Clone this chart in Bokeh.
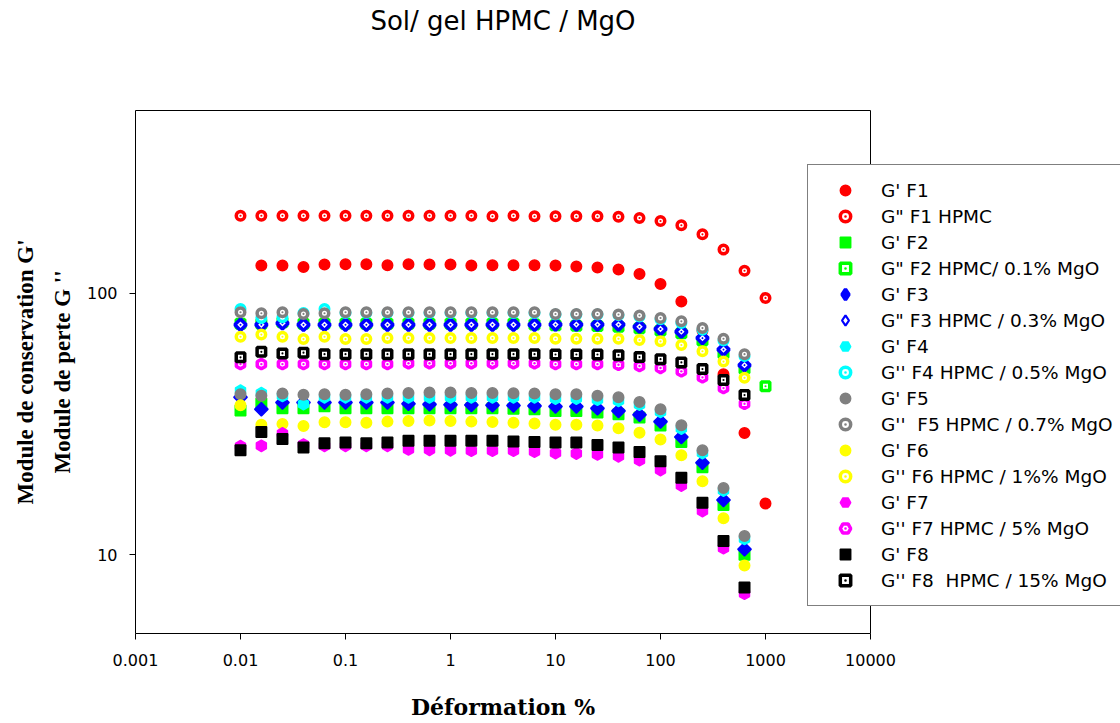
import numpy as np
from bokeh.plotting import figure
from bokeh.models import (Range1d, FixedTicker, CustomJSTickFormatter, Label,
                          Legend, LegendItem, LogAxis)
from bokeh.embed import file_html
from bokeh.resources import INLINE

# ---------------- data ----------------
strain = [0.01, 0.0158, 0.0251, 0.0398, 0.0631, 0.1, 0.158, 0.251, 0.398, 0.631,
          1.0, 1.58, 2.51, 3.98, 6.31, 10.0, 15.8, 25.1, 39.8, 63.1,
          100.0, 158.0, 251.0, 398.0, 631.0, 1000.0]

x_ticks = [0.001, 0.01, 0.1, 1, 10, 100, 1000, 10000]
y_ticks = [10, 100]

# F1 G' starts at the 2nd strain and ends at 1000
F1_Gp = [127.7, 127.7, 126.1, 128.8, 129.2, 129.2, 128.0, 129.2, 128.8, 128.8,
         127.7, 128.0, 128.0, 128.0, 127.7, 126.6, 125.5, 123.3, 118.6, 108.5,
         93.1, 72.0, 49.0, 29.2, 15.7]
F1_Gpp = [198, 198, 198, 198, 198, 198, 198, 198, 198, 198,
          198, 198, 197, 198, 197, 197, 197, 197, 196, 194,
          189, 182, 168, 147, 122, 96]

F2_Gp = [35.6, 37.9, 36.3, 36.3, 37.0, 36.3, 36.3, 36.3, 36.3, 36.3,
         36.3, 36.3, 36.3, 36.2, 36.0, 35.5, 35.5, 35.0, 34.5, 33.5,
         31.2, 27.0, 21.6, 15.5, 10.0]
F2_Gpp = [76.4, 76.4, 77.5, 76.4, 76.4, 76.4, 76.4, 76.4, 76.4, 76.4,
          76.4, 76.4, 76.4, 76.4, 76.0, 75.4, 75.2, 75.0, 74.5, 73.5,
          72.0, 70.3, 66.0, 59.0, 51.5, 44.1]

F3_Gp = [40.0, 36.0, 38.2, 38.2, 38.2, 38.2, 38.2, 38.2, 37.8, 37.6,
         37.5, 37.4, 37.3, 37.2, 37.1, 36.9, 36.9, 36.3, 35.5, 34.3,
         32.3, 28.2, 22.5, 16.2, 10.5]
F3_Gpp = [75.8, 75.8, 76.8, 75.8, 75.8, 75.8, 75.8, 75.8, 75.8, 75.8,
          75.8, 75.8, 75.8, 75.8, 75.8, 75.9, 75.9, 75.9, 75.9, 74.5,
          73.0, 71.3, 67.4, 60.9, 53.1]

F4_Gp = [42.4, 41.5, 40.5, 37.7, 40.0, 40.0, 40.0, 40.0, 40.0, 40.0,
         40.0, 40.0, 40.0, 40.0, 40.0, 39.6, 39.6, 39.2, 38.8, 37.5,
         35.2, 30.4, 24.5, 17.6, 11.5]
F4_Gpp = [87.0, 80.5, 81.0, 84.0, 87.0, 84.0, 84.0, 84.0, 84.0, 84.0,
          84.0, 84.0, 84.0, 84.0, 84.0, 83.0, 83.0, 83.0, 82.5, 81.5,
          79.5, 77.0, 72.5, 66.0, 57.5]

F5_Gp = [41.1, 40.6, 41.4, 40.9, 41.1, 40.9, 41.1, 41.4, 41.6, 41.7,
         41.7, 41.6, 41.6, 41.5, 41.4, 41.1, 41.1, 40.6, 40.0, 38.4,
         36.0, 31.3, 25.1, 18.0, 11.8]
F5_Gpp = [84.6, 83.9, 84.6, 83.4, 83.9, 84.6, 84.6, 84.6, 84.6, 84.6,
          84.6, 84.6, 84.6, 84.6, 84.6, 83.3, 83.3, 83.3, 83.0, 82.2,
          80.4, 78.1, 73.6, 67.0, 58.5]

F6_Gp = [37.3, 31.4, 31.6, 31.1, 32.1, 32.1, 32.0, 32.3, 32.5, 32.6,
         32.5, 32.3, 32.2, 32.0, 31.8, 31.4, 31.4, 31.2, 30.5, 29.3,
         27.6, 24.0, 19.1, 13.8, 9.1]
F6_Gpp = [68.2, 69.5, 68.2, 66.8, 68.2, 66.8, 66.8, 67.4, 67.4, 67.4,
          67.4, 67.4, 67.4, 67.4, 67.4, 67.0, 67.0, 67.0, 67.0, 66.3,
          65.5, 63.4, 60.0, 54.8, 47.5]

F7_Gp = [26.0, 26.1, 29.1, 26.4, 26.1, 26.1, 26.1, 26.1, 25.3, 25.2,
         25.1, 25.0, 25.0, 25.0, 24.8, 24.5, 24.4, 24.2, 23.8, 23.0,
         21.1, 18.4, 14.7, 10.6, 7.1]
F7_Gpp = [53.6, 53.6, 53.6, 53.6, 53.6, 53.6, 53.6, 53.6, 54.0, 54.0,
          54.0, 54.0, 54.0, 54.0, 54.0, 53.6, 53.6, 53.6, 53.3, 52.7,
          51.8, 50.3, 47.7, 43.4, 37.8]

F8_Gp = [25.1, 29.5, 27.7, 25.7, 26.7, 26.9, 26.7, 26.9, 27.3, 27.3,
         27.3, 27.3, 27.3, 27.1, 27.0, 26.9, 26.9, 26.3, 25.7, 24.7,
         22.8, 19.7, 15.8, 11.3, 7.5]
F8_Gpp = [56.9, 59.7, 58.9, 59.3, 58.5, 58.5, 58.5, 58.5, 58.5, 58.5,
          58.5, 58.5, 58.5, 58.5, 58.5, 58.3, 58.3, 58.3, 58.0, 57.0,
          56.0, 54.4, 51.3, 46.6, 40.8]

labels = ["G' F1", 'G" F1 HPMC',
          "G' F2", 'G" F2 HPMC/ 0.1% MgO',
          "G' F3", 'G" F3 HPMC / 0.3% MgO',
          "G' F4", "G'' F4 HPMC / 0.5% MgO",
          "G' F5", "G''  F5 HPMC / 0.7% MgO",
          "G' F6", "G'' F6 HPMC / 1%% MgO",
          "G' F7", "G'' F7 HPMC / 5% MgO",
          "G' F8", "G'' F8  HPMC / 15% MgO"]

title_text = "Sol/ gel HPMC / MgO"
x_title = "Déformation %"
y_title_1 = "Module de conservation G'"
y_title_2 = "Module de perte G ''"

# ---------------- layout (pixels of the 1120x723 page) ----------------
W, H = 1120, 723
FL, FR, FT, FB = 135, 870, 110, 633          # axis box
X_LO, X_HI, Y_LO, Y_HI = 0.001, 10000, 5, 500
xpd = (FR - FL) / (np.log10(X_HI) - np.log10(X_LO))
ypd = (FB - FT) / (np.log10(Y_HI) - np.log10(Y_LO))
x_range = Range1d(10 ** (np.log10(X_LO) - FL / xpd), 10 ** (np.log10(X_HI) + (W - FR) / xpd))
y_range = Range1d(10 ** (np.log10(Y_LO) - (H - FB) / ypd), 10 ** (np.log10(Y_HI) + FT / ypd))

p = figure(width=W, height=H, x_axis_type="log", y_axis_type="log",
           x_range=x_range, y_range=y_range, title=None,
           output_backend="svg", toolbar_location=None, min_border=0)
p.xgrid.visible = False
p.ygrid.visible = False
p.outline_line_color = None
p.background_fill_color = "white"
p.border_fill_color = "white"

fmt = CustomJSTickFormatter(code="""
const e = Math.round(Math.log10(tick));
if (e >= 0) { return Math.pow(10, e).toFixed(0); }
return Math.pow(10, e).toFixed(-e);
""")

xax = p.xaxis[0]
yax = p.yaxis[0]
xax.fixed_location = Y_LO
xax.bounds = (X_LO, X_HI)
yax.fixed_location = X_LO
yax.bounds = (Y_LO, Y_HI)
for ax, t in ((xax, x_ticks), (yax, y_ticks)):
    ax.ticker = FixedTicker(ticks=t)
    ax.formatter = fmt
    ax.major_tick_out = 6
    ax.major_tick_in = 0
    ax.minor_tick_line_color = None
    ax.axis_line_color = "black"
    ax.major_tick_line_color = "black"
    ax.major_label_text_font = "DejaVu Sans"
    ax.major_label_text_font_size = "16px"
    ax.major_label_text_color = "black"
xax.major_label_standoff = 14
yax.major_label_standoff = 12

# top and right borders of the axis box
top_ax = LogAxis(fixed_location=Y_HI, bounds=(X_LO, X_HI), ticker=FixedTicker(ticks=[]),
                 major_tick_out=0, major_tick_in=0, minor_tick_line_color=None,
                 major_label_text_font_size="0px", axis_line_color="black")
right_ax = LogAxis(fixed_location=X_HI, bounds=(Y_LO, Y_HI), ticker=FixedTicker(ticks=[]),
                   major_tick_out=0, major_tick_in=0, minor_tick_line_color=None,
                   major_label_text_font_size="0px", axis_line_color="black")
p.add_layout(top_ax, "above")
p.add_layout(right_ax, "right")

# ---------------- series ----------------
specs = [
    (strain[1:26], F1_Gp, "circle", "#FF0000", False),
    (strain[0:26], F1_Gpp, "circle", "#FF0000", True),
    (strain[0:25], F2_Gp, "square", "#00FF00", False),
    (strain[0:26], F2_Gpp, "square", "#00FF00", True),
    (strain[0:25], F3_Gp, "diamond", "#0000FF", False),
    (strain[0:25], F3_Gpp, "diamond", "#0000FF", True),
    (strain[0:25], F4_Gp, "hex", "#00FFFF", False),
    (strain[0:25], F4_Gpp, "circle", "#00FFFF", True),
    (strain[0:25], F5_Gp, "circle", "#808080", False),
    (strain[0:25], F5_Gpp, "circle", "#808080", True),
    (strain[0:25], F6_Gp, "circle", "#FFFF00", False),
    (strain[0:25], F6_Gpp, "circle", "#FFFF00", True),
    (strain[0:25], F7_Gp, "hex", "#FF00FF", False),
    (strain[0:25], F7_Gpp, "hex", "#FF00FF", True),
    (strain[0:25], F8_Gp, "square", "#000000", False),
    (strain[0:25], F8_Gpp, "square", "#000000", True),
]

items = []
for (xs, ys, mk, col, hollow), lab in zip(specs, labels):
    angle = 0.0
    marker = mk
    if mk == "diamond":
        marker = "square"
        angle = np.pi / 4
    if mk == "hex":
        angle = np.pi / 2
    if hollow:
        size = 9.5 if marker == "hex" else 8.5
        if mk == "diamond":
            size = 8
        r = p.scatter(x=xs, y=ys, marker=marker + "_dot", size=size, angle=angle,
                      fill_color="white", line_color=col, line_width=3.5)
    else:
        size = 11.5 if marker == "hex" else 10.5
        if mk == "diamond":
            size = 9.5
        r = p.scatter(x=xs, y=ys, marker=marker, size=size, angle=angle,
                      fill_color=col, line_color=col, line_width=1.5)
    leg_r = r
    if mk == "diamond":
        # legend swatch: an upright diamond (legend swatches ignore angle);
        # the renderer holds no visible point
        if hollow:
            leg_r = p.scatter(x=[np.nan], y=[np.nan], marker="diamond", size=10,
                              fill_color="white", line_color=col, line_width=2.2)
        else:
            leg_r = p.scatter(x=[np.nan], y=[np.nan], marker="diamond", size=12,
                              fill_color=col, line_color=col, line_width=3.5)
    items.append(LegendItem(label=lab, renderers=[leg_r]))

legend = Legend(items=items, location=(807, H - 606),
                border_line_color="black", border_line_width=1,
                background_fill_color="white", background_fill_alpha=1.0,
                label_text_font="DejaVu Sans", label_text_font_size="18.5px",
                label_text_color="black",
                glyph_height=26, glyph_width=50, label_height=20, label_width=260,
                spacing=0, padding=12, label_standoff=11, margin=0)
p.add_layout(legend)

# ---------------- texts ----------------
ymid = H - (FT + FB) / 2
xmid = (FL + FR) / 2
p.add_layout(Label(x=xmid, y=H - 20, x_units="screen", y_units="screen",
                   text=title_text, text_align="center", text_baseline="middle",
                   text_font="DejaVu Sans", text_font_size="26px", text_color="black"))
p.add_layout(Label(x=xmid, y=H - 706, x_units="screen", y_units="screen",
                   text=x_title, text_align="center", text_baseline="middle",
                   text_font="DejaVu Serif", text_font_style="bold",
                   text_font_size="22px", text_color="black"))
p.add_layout(Label(x=25, y=ymid, x_units="screen", y_units="screen",
                   text=y_title_1, angle=np.pi / 2,
                   text_align="center", text_baseline="middle",
                   text_font="Liberation Serif", text_font_style="bold",
                   text_font_size="23px", text_color="black"))
p.add_layout(Label(x=62, y=ymid, x_units="screen", y_units="screen",
                   text=y_title_2, angle=np.pi / 2,
                   text_align="center", text_baseline="middle",
                   text_font="Liberation Serif", text_font_style="bold",
                   text_font_size="23px", text_color="black"))

open("out.html", "w").write(file_html(p, INLINE))
